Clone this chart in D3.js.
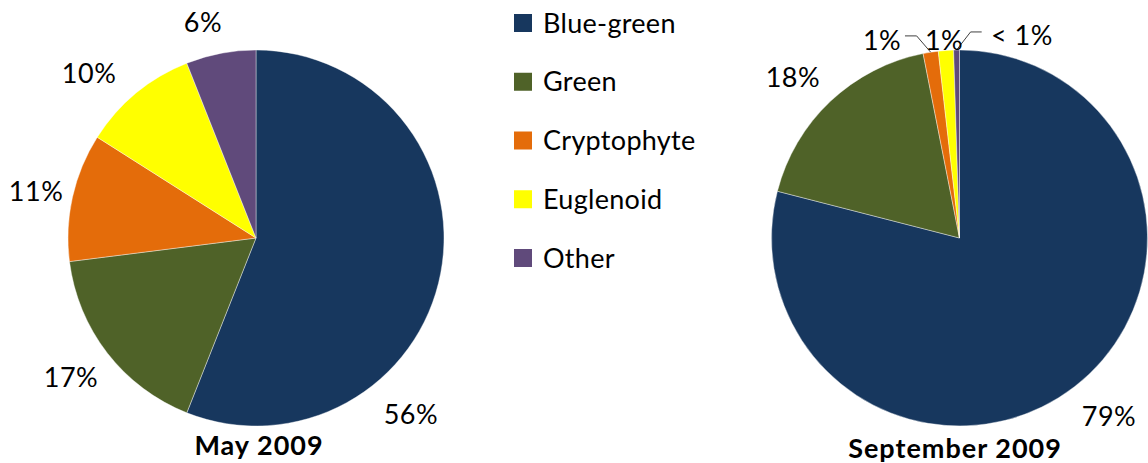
<!DOCTYPE html>
<html>
<head>
<meta charset="utf-8">
<script src="https://cdn.jsdelivr.net/npm/d3@7/dist/d3.min.js"></script>
<style>
  html, body { margin: 0; padding: 0; background: #fff; }
  svg { display: block; }
  text { font-family: Lato, "Open Sans", sans-serif; fill: #000; }
</style>
</head>
<body>
<svg id="chart" width="1148" height="463"></svg>
<script>
// Phytoplankton composition by group (percent of total)
const groups = ["Blue-green", "Green", "Cryptophyte", "Euglenoid", "Other"];
const colors = ["#17375e", "#4f6228", "#e46c0a", "#ffff00", "#604a7b"];
const may2009 = [56, 17, 11, 10, 6];
const sep2009 = [79.0, 17.9, 1.3, 1.3, 0.5];
const titles = ["May 2009", "September 2009"];

// Layout: pie centres and label offsets (in units of the radius)
const radius = 188;
const pies = [
  {
    values: may2009, title: titles[0], cx: 256, cy: 238, titleX: 259, titleY: 455,
    labels: [[0.824, 0.936], [-0.984, 0.739], [-1.170, -0.250], [-0.888, -0.878], [-0.282, -1.149]],
    leaders: [null, null, null, null, null]
  },
  {
    values: sep2009, title: titles[1], cx: 959.5, cy: 238, titleX: 955, titleY: 458,
    labels: [[0.795, 0.947], [-0.886, -0.856], [-0.412, -1.053], [-0.082, -1.053], [0.332, -1.080]],
    // leader polylines: elbow and end points, in units of the radius
    leaders: [null, null, [[-0.228, -1.075], [-0.290, -1.075]], null, [[0.059, -1.096], [0.118, -1.096]]]
  }
];

const fmt = v => v < 1 ? "< 1%" : d3.format(".0f")(v) + "%";
const svg = d3.select("#chart");
const pie = d3.pie().sort(null).value(d => d);
const arc = d3.arc().innerRadius(0).outerRadius(radius);

pies.forEach(p => {
  const g = svg.append("g").attr("transform", `translate(${p.cx},${p.cy})`);
  const arcs = pie(p.values);

  g.selectAll("path.slice")
    .data(arcs)
    .join("path")
    .attr("class", "slice")
    .attr("d", arc)
    .attr("fill", (d, i) => colors[i])
    .attr("stroke", "#ffffff")
    .attr("stroke-width", 0.4);

  // leader lines from the slice edge to the label
  arcs.forEach((d, i) => {
    const L = p.leaders[i];
    if (!L) return;
    const mid = (d.startAngle + d.endAngle) / 2;
    const start = [radius * Math.sin(mid), -radius * Math.cos(mid)];
    const pts = [start].concat(L.map(q => [q[0] * radius, q[1] * radius]));
    g.append("path")
      .attr("d", d3.line()(pts))
      .attr("fill", "none")
      .attr("stroke", "#404040")
      .attr("stroke-width", 1);
  });

  g.selectAll("text.pct")
    .data(arcs)
    .join("text")
    .attr("class", "pct")
    .attr("x", (d, i) => p.labels[i][0] * radius)
    .attr("y", (d, i) => p.labels[i][1] * radius)
    .attr("dy", "0.36em")
    .attr("text-anchor", "middle")
    .style("font-size", "27px")
    .style("letter-spacing", "0.5px")
    .text(d => fmt(d.data));

  svg.append("text")
    .attr("x", p.titleX)
    .attr("y", p.titleY)
    .attr("text-anchor", "middle")
    .style("font-size", "27px")
    .style("font-weight", "bold")
    .style("letter-spacing", "1px")
    .text(p.title);
});

// Legend
const legendY = d3.scalePoint().domain(groups).range([23, 258]);
const legend = svg.append("g");
const item = legend.selectAll("g")
  .data(groups)
  .join("g")
  .attr("transform", d => `translate(514,${legendY(d)})`);
item.append("rect")
  .attr("x", 0).attr("y", -9)
  .attr("width", 18).attr("height", 18)
  .attr("fill", (d, i) => colors[i]);
item.append("text")
  .attr("x", 29)
  .attr("dy", "0.36em")
  .style("font-size", "27px")
  .style("letter-spacing", "0.3px")
  .text(d => d);
</script>
</body>
</html>
